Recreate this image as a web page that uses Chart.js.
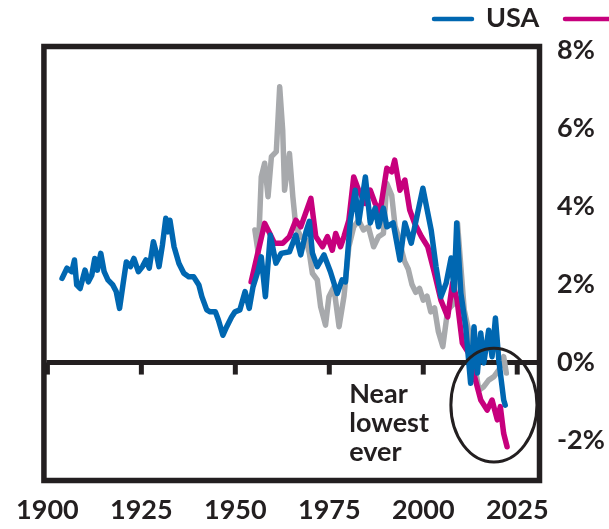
<!DOCTYPE html>
<html>
<head>
<meta charset="utf-8">
<script src="https://cdn.jsdelivr.net/npm/chart.js@4"></script>
<style>
html,body{margin:0;padding:0;background:#fff;}
#wrap{width:609px;height:529px;position:relative;}
</style>
</head>
<body>
<div id="wrap"><canvas id="c" width="609" height="529"></canvas></div>
<script>
// ---- data ----
const xTicks = [1900, 1925, 1950, 1975, 2000, 2025];
const yTicks = [-2, 0, 2, 4, 6, 8];
const legendLabel = "USA";
const annotationLines = ["Near", "lowest", "ever"];

const usaYears = [1903.9,1905.2,1906.5,1907.2,1907.8,1908.7,1910.0,1910.9,1911.8,1912.6,1913.3,1914.2,1915.1,1916.1,1917.4,1918.3,1919.2,1920.1,1921.0,1922.1,1923.0,1924.2,1925.3,1926.2,1927.1,1928.2,1928.9,1929.7,1930.6,1931.5,1932.1,1932.6,1933.7,1935.0,1936.3,1937.6,1938.9,1940.3,1941.1,1942.4,1943.3,1944.7,1945.5,1946.7,1947.7,1949.0,1949.9,1951.2,1952.6,1953.7,1954.7,1956.1,1956.9,1958.0,1959.3,1960.8,1962.2,1964.4,1966.1,1967.4,1968.8,1969.7,1970.5,1971.8,1973.6,1975.3,1977.1,1978.4,1979.3,1980.6,1981.9,1982.8,1984.6,1985.9,1987.2,1988.1,1989.4,1990.3,1992.0,1993.8,1995.1,1996.8,1999.9,2002.1,2003.4,2004.7,2006.1,2007.4,2008.2,2008.9,2010.0,2011.3,2012.6,2013.5,2014.4,2015.3,2016.1,2017.4,2018.3,2019.2,2020.1,2021.4,2021.8];
const usaValues = [2.16,2.42,2.33,2.63,1.99,1.90,2.37,2.07,2.24,2.67,2.37,2.80,2.33,2.12,1.99,1.82,1.39,1.99,2.58,2.46,2.67,2.33,2.46,2.63,2.42,3.10,2.84,2.46,3.01,3.70,3.35,3.65,2.97,2.54,2.29,2.20,2.20,1.99,1.69,1.35,1.30,1.30,1.09,0.70,0.92,1.17,1.30,1.35,1.82,1.39,1.94,2.37,2.71,1.69,3.27,2.55,2.80,2.84,3.27,2.76,3.35,3.62,2.81,2.46,2.76,2.33,1.77,2.12,2.07,3.65,4.42,3.58,4.76,3.58,3.96,3.48,3.96,3.48,3.58,2.63,3.58,3.06,4.47,3.40,2.46,1.69,2.04,2.68,1.86,3.58,1.78,0.92,-0.53,0.92,-0.27,0.76,-0.01,0.83,0.15,1.14,0.06,-0.96,-1.09];

const magentaYears = [1954.2,1957.8,1959.1,1960.4,1962.6,1964.4,1966.1,1967.4,1970.1,1971.4,1973.2,1974.5,1975.8,1976.7,1978.0,1978.9,1980.2,1981.5,1982.8,1984.6,1985.9,1987.2,1988.5,1990.3,1991.6,1992.4,1993.8,1995.1,1996.4,1997.7,1999.5,2001.2,2003.0,2004.7,2006.5,2007.8,2009.0,2010.4,2012.1,2013.4,2015.3,2017.0,2018.3,2019.7,2020.5,2021.4,2022.3];
const magentaValues = [2.07,3.57,3.32,3.06,3.06,3.23,3.65,3.48,4.21,3.23,2.97,3.23,2.88,3.31,2.97,3.23,3.65,4.76,4.42,4.08,4.42,4.08,3.87,4.98,4.89,5.19,4.42,4.68,3.91,3.57,3.23,2.97,2.29,1.60,1.17,2.04,1.60,0.50,0.24,-0.27,-0.96,-1.22,-0.96,-1.47,-1.13,-1.82,-2.16];

const greyYears = [1955.2,1956.1,1956.9,1957.8,1958.7,1959.6,1960.9,1961.8,1962.6,1963.1,1964.4,1965.3,1966.1,1967.4,1968.8,1969.7,1970.5,1971.8,1972.7,1974.0,1974.9,1976.2,1977.6,1978.9,1980.2,1981.5,1982.8,1984.1,1985.4,1986.8,1988.1,1989.4,1990.3,1991.6,1992.5,1993.5,1994.2,1995.0,1996.0,1997.0,1998.0,1999.0,2000.0,2001.0,2002.0,2003.0,2004.0,2005.2,2006.5,2008.2,2009.1,2010.9,2012.2,2013.5,2014.8,2016.1,2017.4,2018.8,2020.1,2021.4,2022.1];
const greyValues = [3.40,2.80,4.76,5.11,4.25,5.28,5.41,7.07,5.96,4.42,5.36,4.25,3.48,3.23,3.14,2.80,2.29,2.12,1.43,0.96,1.69,1.94,0.92,1.69,2.97,3.48,3.65,3.40,3.48,2.97,3.23,3.31,4.59,4.29,3.50,3.20,2.90,2.60,2.40,2.00,1.80,1.90,1.60,1.70,1.30,1.40,0.80,0.41,1.35,1.52,3.58,1.35,0.76,0.06,-0.71,-0.62,-0.45,-0.36,-0.19,0.15,-0.27];

// annotation anchors (data units)
const annotationAnchor = {year: 1980.3, value: -1.04};
const ellipseCenter = {year: 2018.8, value: -1.09};
const ellipseRadius = {years: 11.45, value: 1.46};

// ---- styling ----
const INK = '#231f20';
const BLUE = '#0067b1';
const MAGENTA = '#c7007d';
const GREY = '#a7a9ac';
const FONT = {family: 'Lato', weight: 'bold', size: 27};
const fontStr = 'bold 27px Lato';

const pts = (xs, ys) => xs.map((x, i) => ({x, y: ys[i]}));

const decor = {
  id: 'decor',
  beforeDatasetsDraw(chart) {
    const {ctx, chartArea: a, scales: {x, y}} = chart;
    const y0 = y.getPixelForValue(0);
    ctx.save();
    ctx.strokeStyle = INK;
    ctx.lineWidth = 5;
    ctx.beginPath();
    ctx.moveTo(a.left, y0);
    ctx.lineTo(a.right, y0);
    ctx.stroke();
    xTicks.forEach(t => {
      const px = x.getPixelForValue(t);
      ctx.beginPath();
      ctx.moveTo(px, y0);
      ctx.lineTo(px, y0 + 12);
      ctx.stroke();
    });
    ctx.restore();
  },
  afterDatasetsDraw(chart) {
    const {ctx, chartArea: a, scales: {x, y}} = chart;
    ctx.save();
    ctx.strokeStyle = INK;
    ctx.lineWidth = 5.5;
    ctx.strokeRect(a.left - 2.5, a.top - 2.5, a.right - a.left + 5, a.bottom - a.top + 5);
    const cx = x.getPixelForValue(ellipseCenter.year);
    const cy = y.getPixelForValue(ellipseCenter.value);
    const rx = x.getPixelForValue(ellipseCenter.year + ellipseRadius.years) - cx;
    const ry = cy - y.getPixelForValue(ellipseCenter.value + ellipseRadius.value);
    ctx.lineWidth = 3;
    ctx.beginPath();
    ctx.ellipse(cx, cy, rx, ry, 0, 0, Math.PI * 2);
    ctx.stroke();
    ctx.fillStyle = INK;
    ctx.font = fontStr;
    ctx.textAlign = 'left';
    ctx.textBaseline = 'alphabetic';
    const tx = x.getPixelForValue(annotationAnchor.year);
    const ty = y.getPixelForValue(annotationAnchor.value);
    annotationLines.forEach((s, i) => ctx.fillText(s, tx, ty + i * 29));
    ctx.restore();
  },
  afterDraw(chart) {
    const {ctx} = chart;
    ctx.save();
    ctx.lineCap = 'round';
    ctx.lineWidth = 4.5;
    ctx.strokeStyle = BLUE;
    ctx.beginPath(); ctx.moveTo(434, 19); ctx.lineTo(472, 19); ctx.stroke();
    ctx.fillStyle = INK;
    ctx.font = fontStr;
    ctx.textBaseline = 'alphabetic';
    ctx.textAlign = 'left';
    ctx.fillText(legendLabel, 486, 27);
    ctx.strokeStyle = MAGENTA;
    ctx.beginPath(); ctx.moveTo(565, 19); ctx.lineTo(620, 19); ctx.stroke();
    ctx.restore();
  }
};

const lineStyle = {borderWidth: 5.5, pointRadius: 0, pointHoverRadius: 0, tension: 0, fill: false,
  borderJoinStyle: 'round', borderCapStyle: 'round'};

new Chart(document.getElementById('c'), {
  type: 'line',
  data: {
    datasets: [
      Object.assign({label: 'USA', data: pts(usaYears, usaValues), borderColor: BLUE}, lineStyle),
      Object.assign({label: 'Series 2', data: pts(magentaYears, magentaValues), borderColor: MAGENTA}, lineStyle),
      Object.assign({label: 'Series 3', data: pts(greyYears, greyValues), borderColor: GREY}, lineStyle)
    ]
  },
  options: {
    responsive: false,
    devicePixelRatio: 1,
    animation: false,
    events: [],
    layout: {padding: {left: 41, top: 49, right: 0, bottom: 0}},
    plugins: {legend: {display: false}, tooltip: {enabled: false}},
    scales: {
      x: {
        type: 'linear', position: 'bottom', min: 1899.74, max: 2030.26,
        grid: {display: false, drawTicks: false}, border: {display: false},
        ticks: {font: FONT, color: INK, padding: 16, maxRotation: 0, autoSkip: false,
          callback: v => String(v)},
        afterBuildTicks: s => { s.ticks = xTicks.map(v => ({value: v})); },
        afterFit: s => { s.height = 51; }
      },
      y: {
        type: 'linear', position: 'right', min: -2.96, max: 8.04,
        grid: {display: false, drawTicks: false}, border: {display: false},
        ticks: {font: FONT, color: INK, padding: 20, callback: v => v + '%'},
        afterBuildTicks: s => { s.ticks = yTicks.map(v => ({value: v})); },
        afterFit: s => { s.width = 72; }
      }
    }
  },
  plugins: [decor]
});
</script>
</body>
</html>
